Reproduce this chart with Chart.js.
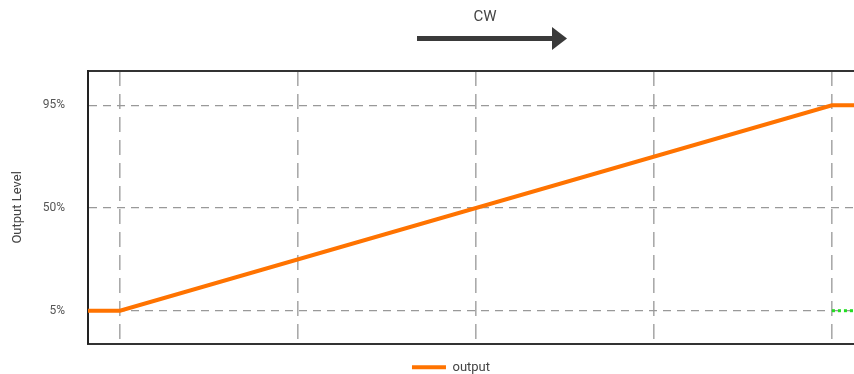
<!DOCTYPE html>
<html>
<head>
<meta charset="utf-8">
<script src="https://cdn.jsdelivr.net/npm/chart.js"></script>
<style>
  html, body { margin: 0; padding: 0; background: #fff; overflow: hidden; }
  #wrap { width: 854px; height: 374px; position: relative; }
</style>
</head>
<body>
<div id="wrap"><canvas id="myChart"></canvas></div>
<script>
// dados do gráfico
const xRange = [-4.5, 103.1];
const xTicks = [0, 25, 50, 75, 100];
const yRange = [-9.5, 110];
const yTicks = [5, 50, 95];

const outputX = [-4.5, 0, 100, 103.1];
const outputLevel = [5, 5, 95, 95];

const lowX = [100, 103.1];
const lowLevel = [5, 5];

const toPoints = (xs, ys) => xs.map((x, i) => ({ x: x, y: ys[i] }));
const fontFamily = 'Roboto, "Noto Sans", sans-serif';

// seta "CW" acima do gráfico
const cwArrow = {
    id: 'cwArrow',
    afterDraw(chart) {
        const ctx = chart.ctx;
        ctx.save();
        ctx.fillStyle = '#444';
        ctx.font = '15px ' + fontFamily;
        ctx.textAlign = 'center';
        ctx.textBaseline = 'middle';
        ctx.fillText('CW', 485, 17);
        ctx.fillStyle = '#3a3a3a';
        ctx.fillRect(417, 36, 136, 5);
        ctx.beginPath();
        ctx.moveTo(552, 27);
        ctx.lineTo(567, 38.5);
        ctx.lineTo(552, 50);
        ctx.closePath();
        ctx.fill();
        ctx.restore();
    }
};

// desloca a legenda um pouco para a direita e para baixo
const legendShift = {
    id: 'legendShift',
    afterLayout(chart) {
        const l = chart.legend;
        l.left += 24; l.right += 24;
        l.top += 10; l.bottom += 10;
    }
};

const ctx = document.getElementById('myChart').getContext('2d');
const myChart = new Chart(ctx, {
    type: 'line',
    data: {
        datasets: [
            {
                label: 'output',
                data: toPoints(outputX, outputLevel),
                borderColor: '#ff7300',
                backgroundColor: '#ff7300',
                borderWidth: 4,
                pointRadius: 0,
                tension: 0
            },
            {
                label: 'low',
                data: toPoints(lowX, lowLevel),
                borderColor: '#22dd22',
                backgroundColor: '#22dd22',
                borderWidth: 3,
                borderDash: [3, 3],
                pointRadius: 0,
                tension: 0
            }
        ]
    },
    options: {
        responsive: true,
        maintainAspectRatio: false,
        animation: false,
        layout: { padding: { top: 71, right: 0, bottom: 0, left: 0 } },
        plugins: {
            title: { display: false },
            tooltip: { enabled: false },
            legend: {
                position: 'bottom',
                labels: {
                    usePointStyle: true,
                    pointStyle: 'line',
                    pointStyleWidth: 34,
                    padding: 7,
                    color: '#444',
                    font: { family: fontFamily, size: 13 },
                    filter: item => item.text === 'output'
                }
            }
        },
        scales: {
            x: {
                type: 'linear',
                min: xRange[0],
                max: xRange[1],
                afterBuildTicks: s => { s.ticks = xTicks.map(v => ({ value: v })); },
                ticks: { display: false },
                grid: { color: '#aaa', lineWidth: 1.6, drawTicks: false },
                border: { display: true, color: '#333', width: 2, dash: [15, 8] }
            },
            xTop: {
                type: 'linear',
                position: 'top',
                min: xRange[0],
                max: xRange[1],
                ticks: { display: false },
                grid: { display: false, drawTicks: false },
                border: { display: true, color: '#333', width: 2 }
            },
            y: {
                min: yRange[0],
                max: yRange[1],
                afterBuildTicks: s => { s.ticks = yTicks.map(v => ({ value: v })); },
                afterFit: s => { s.width = 88; },
                ticks: {
                    padding: 23,
                    color: '#555',
                    font: { family: fontFamily, size: 12 },
                    callback: v => v + '%'
                },
                grid: { color: '#999', lineWidth: 1.2, drawTicks: false },
                border: { display: true, color: '#222', width: 2, dash: [8, 6] },
                title: {
                    display: true,
                    text: 'Output Level',
                    color: '#444',
                    padding: { top: 10, bottom: 0 },
                    font: { family: fontFamily, size: 13 }
                }
            }
        }
    },
    plugins: [cwArrow, legendShift]
});
</script>
</body>
</html>
